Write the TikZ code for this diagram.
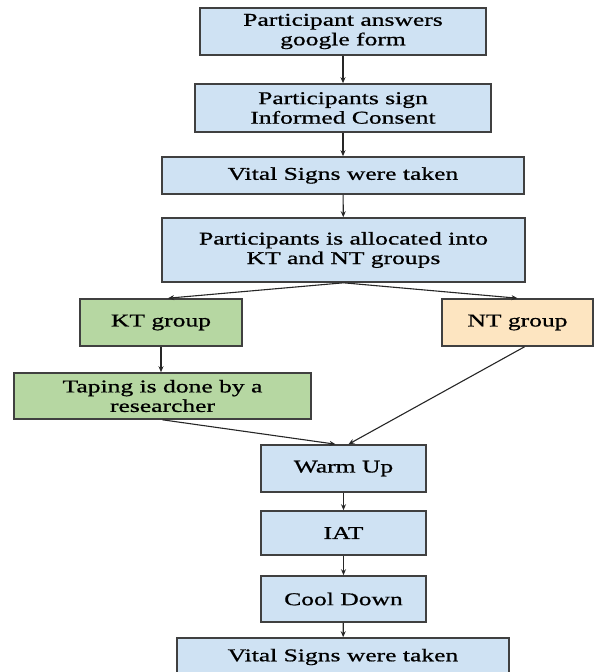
\documentclass[tikz,border=0pt]{standalone}
\usepackage{fontspec}
\setmainfont[FakeStretch=1.42,FakeBold=0.8]{Liberation Serif}
\usetikzlibrary{arrows.meta}

\definecolor{stepblue}{RGB}{207,226,243}
\definecolor{ktgreen}{RGB}{182,215,162}
\definecolor{ntcream}{RGB}{253,229,193}
\definecolor{boxline}{RGB}{64,64,64}

\begin{document}
\begin{tikzpicture}[x=1pt, y=-1pt, >={Stealth[length=6pt,width=5pt]},
    box/.style={draw=boxline, line width=1.6pt, fill=stepblue, align=center,
        inner sep=0pt, font=\fontsize{18}{19.5}\selectfont},
    flow/.style={->, line width=1.1pt, draw=black!85}]
    \useasboundingbox (0,0) rectangle (594,672);
    \clip (0,0) rectangle (594,672);

    % --- Recruitment ---
    \node[box, minimum width=286pt, minimum height=47pt] (answer) at (343,31.5)
        {Participant answers\\google form};
    \node[box, minimum width=296pt, minimum height=48pt] (consent) at (343,108)
        {Participants sign\\Informed Consent};
    \node[box, minimum width=362pt, minimum height=37pt] (vitalA) at (343,175.5)
        {Vital Signs were taken};
    \node[box, minimum width=363pt, minimum height=64pt] (alloc) at (343.5,250)
        {Participants is allocated into\\KT and NT groups};

    % --- Groups ---
    \node[box, fill=ktgreen, minimum width=162pt, minimum height=47pt] (kt) at (161,322.5)
        {KT group};
    \node[box, fill=ntcream, minimum width=151pt, minimum height=47pt] (nt) at (517.5,322.5)
        {NT group};
    \node[box, fill=ktgreen, minimum width=297pt, minimum height=46pt] (tape) at (162.5,396)
        {Taping is done by a\\researcher};

    % --- Exercise ---
    \node[box, minimum width=165pt, minimum height=47pt] (warm) at (343.5,468.5) {Warm Up};
    \node[box, minimum width=165pt, minimum height=44pt] (iat) at (343.5,533) {IAT};
    \node[box, minimum width=165pt, minimum height=46pt] (cool) at (343.5,599) {Cool Down};
    \node[box, minimum width=332pt, minimum height=38pt] (vitalB) at (343,657)
        {Vital Signs were taken};

    % --- Connectors ---
    \draw[flow] (answer) -- (consent);
    \draw[flow] (consent) -- (vitalA);
    \draw[flow] (vitalA) -- (alloc);
    \draw[flow] (alloc.south) -- ([xshift=7pt]kt.north);
    \draw[flow] (alloc.south) -- (nt.north);
    \draw[flow] (kt.south) -- (kt.south |- tape.north);
    \draw[flow] (tape.south) -- ([xshift=-8pt]warm.north);
    \draw[flow] ([xshift=7pt]nt.south) -- ([xshift=5pt]warm.north);
    \draw[flow] (warm) -- (iat);
    \draw[flow] (iat) -- (cool);
    \draw[flow] (cool) -- (vitalB);
\end{tikzpicture}
\end{document}
